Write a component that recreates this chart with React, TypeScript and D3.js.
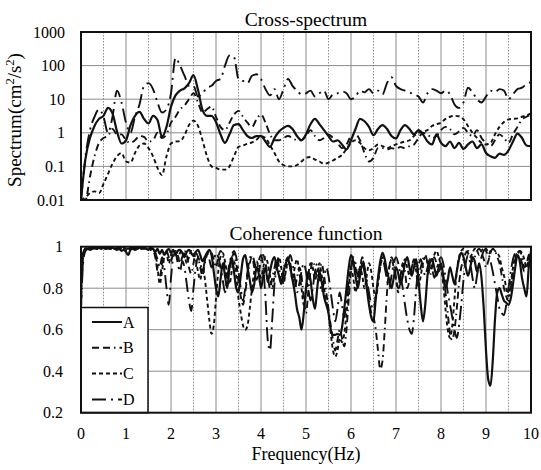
import React from "react";
import * as d3 from "d3";

// Layout
const W = 541;
const H = 470;
const X0 = 81;
const X1 = 531;
const SPEC_TOP = 32;
const SPEC_BOTTOM = 200;
const COH_TOP = 246.7;
const COH_BOTTOM = 412.7;

// Axes
const freqTicks = [0, 1, 2, 3, 4, 5, 6, 7, 8, 9, 10];
const freqHalfTicks = [0.5, 1.5, 2.5, 3.5, 4.5, 5.5, 6.5, 7.5, 8.5, 9.5];
const specTicks = [0.01, 0.1, 1, 10, 100, 1000];
const specTickLabels = ["0.01", "0.1", "1", "10", "100", "1000"];
const cohTicks = [0.2, 0.4, 0.6, 0.8, 1];
const cohTickLabels = ["0.2", "0.4", "0.6", "0.8", "1"];

// Series
const seriesNames = ["A", "B", "C", "D"];
const seriesDash = ["none", "7,4,7,4,1.5,4", "4,3", "14,5,2,5"];

// Cross-spectrum, sampled every 0.1 Hz (cm^2/s^2)
const SPEC_STEP = 0.1;
const specA = [
  0.01, 0.17, 0.7, 1.6, 2.6, 3.2, 5.5, 3.8, 1.1, 0.48,
  0.6, 1.7, 3.2, 4.2, 2.6, 1.9, 3.2, 2.4, 0.75, 1.5,
  6, 13, 18, 21, 30, 52, 19, 4.8, 3.2, 3.2,
  2.1, 0.9, 0.5, 0.9, 1.7, 1.8, 1.2, 0.8, 0.7, 0.8,
  0.8, 0.55, 0.38, 0.7, 1.1, 1.4, 1.6, 1.3, 0.8, 0.6,
  0.9, 1.8, 2.6, 1.8, 1.2, 0.8, 0.55, 0.6, 0.45, 0.32,
  0.6, 1.3, 2.6, 2.2, 1.5, 0.85, 1.3, 1.7, 1.3, 0.8,
  0.68, 1.2, 1.7, 1.3, 0.9, 1.2, 0.9, 0.55, 0.45, 0.9,
  0.5, 0.4, 0.55, 0.35, 0.5, 0.33, 0.45, 0.55, 0.35, 0.45,
  0.25, 0.2, 0.18, 0.24, 0.22, 0.3, 0.55, 0.95, 0.7, 0.42,
  0.4,
];
const specB = [
  0.01, 0.01, 0.05, 0.2, 0.5, 0.7, 0.8, 1.3, 0.9, 0.9,
  0.6, 0.5, 0.6, 0.8, 0.75, 0.55, 0.6, 1.0, 0.7, 0.9,
  2, 3, 5, 6.5, 10, 15, 8, 4, 5, 6,
  3, 1.5, 1.2, 2, 3.5, 4.5, 3, 2, 1.5, 2.5,
  3.5, 2, 0.9, 0.6, 0.6, 0.7, 0.8, 0.7, 0.6, 0.6,
  0.8, 1.2, 0.8, 0.6, 0.7, 0.9, 0.7, 0.5, 0.35, 0.45,
  0.8, 0.9, 0.6, 0.25, 0.14, 0.18, 0.35, 0.35, 0.32, 0.35,
  0.33, 0.38, 0.35, 0.4, 0.45, 0.7, 1.0, 0.9, 0.7, 0.8,
  1.2, 1.5, 1.3, 0.9, 1.1, 1.4, 1.0, 0.8, 1.2, 0.7,
  0.5, 0.4, 0.6, 0.9, 0.7, 0.5, 0.9, 1.5, 2.5, 3,
  3.5,
];
const specC = [
  0.01, 0.012, 0.016, 0.018, 0.016, 0.03, 0.06, 0.12, 0.2, 0.25,
  0.14, 0.13, 0.25, 0.42, 0.48, 0.35, 0.2, 0.09, 0.055, 0.2,
  0.48, 0.55, 0.56, 0.85, 1.7, 2.3, 1.6, 0.6, 0.2, 0.1,
  0.09, 0.08, 0.08, 0.1, 0.2, 0.38, 0.42, 0.47, 0.52, 0.62,
  0.8, 0.7, 0.43, 0.25, 0.14, 0.11, 0.1, 0.1, 0.11, 0.14,
  0.18, 0.19, 0.16, 0.14, 0.12, 0.13, 0.15, 0.18, 0.22, 0.33,
  0.5, 0.6, 0.5, 0.35, 0.3, 0.35, 0.45, 0.4, 0.35, 0.4,
  0.45, 0.5, 0.55, 0.6, 0.8, 1.0, 1.1, 1.2, 1.6, 1.8,
  2, 2.6, 3.0, 3.2, 3.1, 2.5, 1.6, 1.0, 0.7, 0.5,
  0.45, 0.5, 0.9, 1.5, 2.1, 2.5, 2.6, 2.7, 3, 3.3,
  3.8,
];
const specD = [
  0.01, 0.2, 1.2, 3, 5, 3, 1, 3, 18, 8,
  2, 1, 3, 7, 25, 30, 20, 8, 4, 5,
  15, 170, 100, 50, 25, 25, 12, 15, 22, 25,
  35, 40, 100, 200, 180, 40, 35, 30, 50, 55,
  40, 20, 13, 20, 10, 20, 40, 25, 18, 14,
  15, 18, 12, 15, 18, 10, 14, 15, 17, 15,
  10, 12, 18, 16, 20, 15, 18, 14, 30, 45,
  25, 20, 18, 16, 14, 12, 8, 15, 20, 18,
  15, 18, 14, 7, 5.5, 8, 22, 16, 10, 8,
  12, 18, 16, 20, 18, 10, 14, 20, 22, 28,
  32,
];

// Coherence, sampled every 0.05 Hz
const COH_STEP = 0.05;
const cohA = [
  0.8, 0.97, 0.99, 0.99, 0.985, 0.99, 0.995, 0.99, 0.995, 0.99,
  0.995, 0.99, 0.995, 0.99, 0.995, 0.99, 0.985, 0.99, 0.98, 0.985,
  0.975, 0.96, 0.985, 0.99, 0.985, 0.99, 0.995, 0.99, 0.995, 0.99,
  0.985, 0.995, 0.99, 0.975, 0.99, 0.965, 0.985, 0.96, 0.98, 0.99,
  0.97, 0.985, 0.96, 0.98, 0.985, 0.97, 0.95, 0.975, 0.985, 0.97,
  0.955, 0.975, 0.985, 0.96, 0.93, 0.95, 0.97, 0.985, 0.96, 0.88,
  0.8, 0.76, 0.84, 0.92, 0.86, 0.8, 0.9, 0.95, 0.88, 0.8,
  0.78, 0.86, 0.94, 0.96, 0.9, 0.84, 0.78, 0.82, 0.9, 0.87,
  0.8, 0.86, 0.9, 0.83, 0.88, 0.93, 0.95, 0.9, 0.86, 0.82,
  0.88, 0.92, 0.94, 0.9, 0.84, 0.78, 0.7, 0.66, 0.6, 0.68,
  0.8, 0.88, 0.84, 0.75, 0.7, 0.8, 0.88, 0.83, 0.76, 0.72,
  0.68, 0.6, 0.575, 0.575, 0.58, 0.575, 0.61, 0.7, 0.8, 0.9,
  0.96, 0.93, 0.86, 0.8, 0.86, 0.92, 0.88, 0.8, 0.72, 0.66,
  0.64, 0.75, 0.85, 0.93, 0.97, 0.94, 0.88, 0.84, 0.8, 0.85,
  0.9, 0.87, 0.82, 0.86, 0.92, 0.95, 0.9, 0.86, 0.9, 0.94,
  0.84, 0.72, 0.64, 0.72, 0.86, 0.92, 0.94, 0.9, 0.86, 0.9,
  0.92, 0.86, 0.8, 0.84, 0.9, 0.86, 0.82, 0.88, 0.94, 0.97,
  0.95, 0.9, 0.86, 0.9, 0.95, 0.93, 0.88, 0.92, 0.85, 0.7,
  0.5, 0.36, 0.33, 0.45, 0.65, 0.78, 0.8, 0.77, 0.74, 0.73,
  0.72, 0.75, 0.82, 0.9, 0.96, 0.93, 0.85, 0.8, 0.76, 0.9,
  0.98,
];
const cohB = [
  0.7, 0.95, 0.99, 0.995, 0.99, 0.995, 0.99, 0.995, 0.99, 0.995,
  0.99, 0.995, 0.99, 0.995, 0.99, 0.995, 0.99, 0.995, 0.99, 0.99,
  0.985, 0.98, 0.99, 0.995, 0.99, 0.995, 0.99, 0.995, 0.99, 0.995,
  0.99, 0.985, 0.98, 0.95, 0.88, 0.85, 0.92, 0.97, 0.98, 0.95,
  0.93, 0.97, 0.98, 0.96, 0.92, 0.95, 0.98, 0.96, 0.9, 0.87,
  0.92, 0.97, 0.95, 0.9, 0.86, 0.92, 0.96, 0.98, 0.97, 0.94,
  0.9, 0.95, 0.98, 0.96, 0.9, 0.85, 0.88, 0.94, 0.97, 0.92,
  0.83, 0.76, 0.72, 0.78, 0.86, 0.92, 0.95, 0.9, 0.84, 0.88,
  0.93, 0.96, 0.92, 0.86, 0.8, 0.85, 0.9, 0.94, 0.9, 0.83,
  0.88, 0.93, 0.95, 0.92, 0.86, 0.8, 0.85, 0.9, 0.86, 0.75,
  0.68, 0.78, 0.88, 0.93, 0.9, 0.85, 0.88, 0.92, 0.86, 0.78,
  0.7, 0.62, 0.55, 0.5, 0.55, 0.6, 0.56, 0.52, 0.6, 0.75,
  0.88, 0.94, 0.9, 0.85, 0.9, 0.95, 0.9, 0.82, 0.75, 0.68,
  0.66, 0.6, 0.5, 0.41, 0.45, 0.6, 0.78, 0.9, 0.95, 0.92,
  0.85, 0.8, 0.86, 0.92, 0.88, 0.8, 0.84, 0.9, 0.94, 0.9,
  0.86, 0.9, 0.94, 0.96, 0.92, 0.86, 0.9, 0.95, 0.92, 0.88,
  0.9, 0.85, 0.78, 0.68, 0.58, 0.55, 0.6, 0.7, 0.82, 0.9,
  0.94, 0.97, 0.98, 0.96, 0.93, 0.95, 0.98, 0.99, 0.97, 0.94,
  0.9, 0.93, 0.97, 0.99, 0.98, 0.95, 0.92, 0.86, 0.8, 0.76,
  0.74, 0.8, 0.88, 0.94, 0.97, 0.98, 0.95, 0.9, 0.92, 0.96,
  0.98,
];
const cohC = [
  0.75, 0.97, 0.99, 0.99, 0.995, 0.99, 0.995, 0.99, 0.995, 0.99,
  0.995, 0.99, 0.995, 0.99, 0.995, 0.99, 0.995, 0.99, 0.99, 0.995,
  0.99, 0.985, 0.99, 0.995, 0.99, 0.995, 0.99, 0.995, 0.99, 0.995,
  0.99, 0.99, 0.985, 0.97, 0.9, 0.82, 0.88, 0.95, 0.97, 0.92,
  0.96, 0.98, 0.97, 0.94, 0.97, 0.98, 0.96, 0.92, 0.95, 0.98,
  0.97, 0.94, 0.88, 0.84, 0.9, 0.85, 0.75, 0.65, 0.58, 0.62,
  0.75, 0.88, 0.95, 0.97, 0.93, 0.87, 0.82, 0.88, 0.93, 0.86,
  0.75, 0.68, 0.62, 0.6, 0.62, 0.7, 0.8, 0.88, 0.93, 0.9,
  0.85, 0.9, 0.95, 0.92, 0.86, 0.8, 0.86, 0.92, 0.95, 0.9,
  0.82, 0.88, 0.93, 0.9, 0.84, 0.9, 0.94, 0.88, 0.8, 0.72,
  0.78, 0.86, 0.92, 0.9, 0.84, 0.88, 0.92, 0.86, 0.8, 0.74,
  0.68, 0.58, 0.5, 0.47, 0.5, 0.56, 0.54, 0.58, 0.68, 0.8,
  0.9, 0.85, 0.78, 0.84, 0.9, 0.86, 0.8, 0.86, 0.92, 0.88,
  0.8, 0.75, 0.82, 0.9, 0.95, 0.92, 0.86, 0.9, 0.94, 0.9,
  0.84, 0.78, 0.84, 0.9, 0.94, 0.9, 0.86, 0.9, 0.93, 0.88,
  0.8, 0.86, 0.92, 0.95, 0.92, 0.88, 0.92, 0.96, 0.98, 0.95,
  0.9, 0.82, 0.7, 0.6, 0.56, 0.62, 0.75, 0.88, 0.95, 0.98,
  0.99, 0.98, 0.97, 0.95, 0.97, 0.99, 0.98, 0.96, 0.98, 0.99,
  0.98, 0.96, 0.98, 0.99, 0.98, 0.97, 0.95, 0.9, 0.86, 0.8,
  0.76, 0.82, 0.9, 0.95, 0.97, 0.98, 0.97, 0.94, 0.9, 0.94,
  0.97,
];
const cohD = [
  0.7, 0.93, 0.98, 0.99, 0.995, 0.99, 0.995, 0.99, 0.995, 0.99,
  0.995, 0.99, 0.995, 0.99, 0.995, 0.99, 0.995, 0.99, 0.995, 0.99,
  0.99, 0.99, 0.995, 0.99, 0.995, 0.99, 0.995, 0.99, 0.995, 0.99,
  0.99, 0.985, 0.99, 0.97, 0.94, 0.9, 0.95, 0.9, 0.8, 0.72,
  0.85, 0.95, 0.97, 0.92, 0.88, 0.93, 0.9, 0.82, 0.74, 0.69,
  0.8, 0.9, 0.95, 0.92, 0.88, 0.93, 0.97, 0.94, 0.9, 0.93,
  0.97, 0.95, 0.9, 0.84, 0.78, 0.85, 0.92, 0.96, 0.98, 0.95,
  0.88, 0.8, 0.74, 0.8, 0.88, 0.94, 0.96, 0.93, 0.88, 0.93,
  0.96, 0.9, 0.75, 0.55, 0.5, 0.65, 0.82, 0.9, 0.94, 0.9,
  0.84, 0.88, 0.93, 0.96, 0.92, 0.85, 0.78, 0.82, 0.88, 0.92,
  0.88, 0.8, 0.74, 0.8, 0.88, 0.92, 0.86, 0.78, 0.84, 0.9,
  0.86, 0.78, 0.7, 0.64, 0.7, 0.78, 0.72, 0.66, 0.74, 0.84,
  0.9, 0.95, 0.92, 0.86, 0.9, 0.94, 0.9, 0.84, 0.78, 0.72,
  0.7, 0.76, 0.84, 0.9, 0.94, 0.9, 0.84, 0.8, 0.86, 0.92,
  0.95, 0.92, 0.86, 0.8, 0.72, 0.65, 0.6, 0.58, 0.66, 0.8,
  0.9, 0.94, 0.9, 0.86, 0.9, 0.94, 0.9, 0.85, 0.88, 0.93,
  0.95, 0.92, 0.85, 0.78, 0.72, 0.66, 0.6, 0.56, 0.62, 0.72,
  0.84, 0.92, 0.96, 0.92, 0.85, 0.8, 0.86, 0.92, 0.95, 0.98,
  0.99, 0.97, 0.93, 0.88, 0.82, 0.76, 0.7, 0.68, 0.67, 0.72,
  0.8, 0.88, 0.94, 0.97, 0.98, 0.96, 0.92, 0.88, 0.9, 0.94,
  0.96,
];

const specSeries = [specA, specB, specC, specD];
const cohSeries = [cohA, cohB, cohC, cohD];

const FONT = "Liberation Serif, DejaVu Serif, serif";

const x = d3.scaleLinear().domain([0, 10]).range([X0, X1]);
const ySpec = d3.scaleLog().domain([0.01, 1000]).range([SPEC_BOTTOM, SPEC_TOP]);
const yCoh = d3.scaleLinear().domain([0.2, 1]).range([COH_BOTTOM, COH_TOP]);

function makePath(values: number[], step: number, y: (v: number) => number) {
  const line = d3
    .line<number>()
    .x((_, i) => x(i * step))
    .y((v) => y(v))
    .curve(d3.curveMonotoneX);
  return line(values) || "";
}

function Grid({ top, bottom, hLines }: { top: number; bottom: number; hLines: number[] }) {
  return (
    <g>
      {hLines.map((yy, i) => (
        <line key={"h" + i} x1={X0} x2={X1} y1={yy} y2={yy} stroke="#8c8c8c" strokeWidth={1} />
      ))}
      {freqTicks.slice(1, -1).map((f) => (
        <line key={"v" + f} x1={x(f)} x2={x(f)} y1={top} y2={bottom} stroke="#8c8c8c" strokeWidth={1} />
      ))}
      {freqHalfTicks.map((f) => (
        <line
          key={"d" + f}
          x1={x(f)}
          x2={x(f)}
          y1={top}
          y2={bottom}
          stroke="#8c8c8c"
          strokeWidth={1}
          strokeDasharray="1.5,1.5"
        />
      ))}
    </g>
  );
}

const textStyle = { fontFamily: FONT };

export default function App() {
  return (
    <svg width={W} height={H} style={{ position: "absolute", left: 0, top: 0, background: "#fff" }}>
      <defs>
        <clipPath id="clipSpec">
          <rect x={X0} y={SPEC_TOP} width={X1 - X0} height={SPEC_BOTTOM - SPEC_TOP} />
        </clipPath>
        <clipPath id="clipCoh">
          <rect x={X0} y={COH_TOP} width={X1 - X0} height={COH_BOTTOM - COH_TOP} />
        </clipPath>
      </defs>
      <rect x={0} y={0} width={W} height={H} fill="#fff" />

      {/* Cross-spectrum panel */}
      <text x={(X0 + X1) / 2} y={26} textAnchor="middle" style={textStyle} fontSize={19.5}>
        Cross-spectrum
      </text>
      <Grid top={SPEC_TOP} bottom={SPEC_BOTTOM} hLines={specTicks.slice(1, -1).map((t) => ySpec(t))} />
      <g clipPath="url(#clipSpec)">
        {specSeries.map((vals, k) => (
          <path
            key={k}
            d={makePath(vals, SPEC_STEP, ySpec)}
            fill="none"
            stroke="#111"
            strokeWidth={k === 0 ? 2.2 : 1.9}
            strokeDasharray={seriesDash[k]}
          />
        ))}
      </g>
      <rect x={X0} y={SPEC_TOP} width={X1 - X0} height={SPEC_BOTTOM - SPEC_TOP} fill="none" stroke="#111" strokeWidth={2} />
      {specTicks.map((t, i) => (
        <text key={t} x={65} y={ySpec(t)} dy="0.35em" textAnchor="end" style={textStyle} fontSize={16}>
          {specTickLabels[i]}
        </text>
      ))}
      <text
        transform={`translate(21, 120) rotate(-90)`}
        textAnchor="middle"
        style={textStyle}
        fontSize={19}
      >
        Spectrum(cm
        <tspan fontSize={12.5} dy={-7}>2</tspan>
        <tspan dy={7}>/s</tspan>
        <tspan fontSize={12.5} dy={-7}>2</tspan>
        <tspan dy={7}>)</tspan>
      </text>

      {/* Coherence panel */}
      <text x={(X0 + X1) / 2} y={240} textAnchor="middle" style={textStyle} fontSize={19.5}>
        Coherence function
      </text>
      <Grid top={COH_TOP} bottom={COH_BOTTOM} hLines={cohTicks.slice(1, -1).map((t) => yCoh(t))} />
      <g clipPath="url(#clipCoh)">
        {cohSeries.map((vals, k) => (
          <path
            key={k}
            d={makePath(vals, COH_STEP, yCoh)}
            fill="none"
            stroke="#111"
            strokeWidth={k === 0 ? 2.2 : 1.9}
            strokeDasharray={seriesDash[k]}
          />
        ))}
      </g>
      {/* Legend */}
      <g>
        <rect x={X0} y={307.5} width={67} height={COH_BOTTOM - 307.5} fill="#fff" stroke="#111" strokeWidth={1.5} />
        {seriesNames.map((name, k) => {
          const ly = 322 + k * 25.8;
          return (
            <g key={name}>
              <line x1={92} x2={122} y1={ly} y2={ly} stroke="#111" strokeWidth={2} strokeDasharray={seriesDash[k]} />
              <text x={123} y={ly} dy="0.35em" style={textStyle} fontSize={16}>
                {name}
              </text>
            </g>
          );
        })}
      </g>
      <rect x={X0} y={COH_TOP} width={X1 - X0} height={COH_BOTTOM - COH_TOP} fill="none" stroke="#111" strokeWidth={2} />
      {cohTicks.map((t, i) => (
        <text key={t} x={63} y={yCoh(t)} dy="0.35em" textAnchor="end" style={textStyle} fontSize={16}>
          {cohTickLabels[i]}
        </text>
      ))}
      {freqTicks.map((f) => (
        <text key={f} x={x(f)} y={439} textAnchor="middle" style={textStyle} fontSize={16}>
          {f}
        </text>
      ))}
      <text x={(X0 + X1) / 2} y={460} textAnchor="middle" style={textStyle} fontSize={18}>
        Frequency(Hz)
      </text>
    </svg>
  );
}
